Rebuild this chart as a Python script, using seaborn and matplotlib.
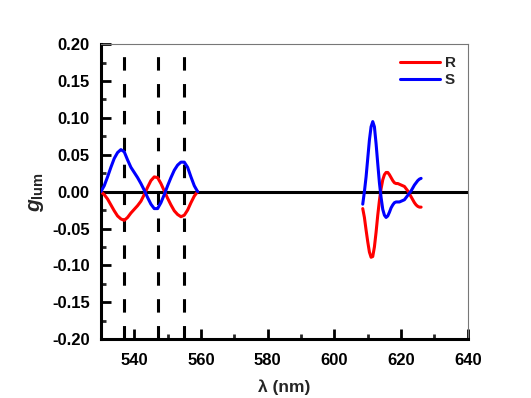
import numpy as np
import pandas as pd
import matplotlib
matplotlib.use("Agg")
import matplotlib.pyplot as plt
from matplotlib.ticker import MultipleLocator
import seaborn as sns

# ---- data ----
wl_left = [530, 531, 532, 533, 534, 535, 536, 537, 538, 539, 540, 541, 542, 543, 544,
           545, 546, 547, 548, 549, 550, 551, 552, 553, 554, 555, 556, 557, 558, 559]
s_left = [0.000, 0.008, 0.020, 0.033, 0.045, 0.053, 0.057, 0.054, 0.043, 0.033, 0.026,
          0.019, 0.011, 0.002, -0.008, -0.017, -0.023, -0.023, -0.015, -0.004, 0.008,
          0.019, 0.029, 0.036, 0.040, 0.040, 0.033, 0.020, 0.008, 0.000]
r_left = [0.000, -0.004, -0.010, -0.018, -0.026, -0.033, -0.037, -0.039, -0.035, -0.029,
          -0.024, -0.019, -0.013, -0.004, 0.006, 0.015, 0.020, 0.019, 0.011, 0.001,
          -0.009, -0.018, -0.026, -0.031, -0.034, -0.032, -0.025, -0.015, -0.006, 0.000]

wl_right = [608.5, 609.0, 609.5, 610.0, 610.5, 611.0, 611.5, 612.0, 612.5, 613.0, 613.5,
            614.0, 614.5, 615.0, 615.5, 616.0, 616.5, 617.0, 617.5, 618.0, 618.5, 619.0,
            619.5, 620.0, 620.5, 621.0, 621.5, 622.0, 622.5, 623.0, 623.5, 624.0, 624.5,
            625.0, 625.5, 626.0]
s_right = [-0.017, 0.000, 0.020, 0.045, 0.070, 0.088, 0.095, 0.088, 0.065, 0.038, 0.012,
           -0.008, -0.024, -0.032, -0.035, -0.033, -0.028, -0.022, -0.018, -0.015, -0.014,
           -0.014, -0.014, -0.013, -0.012, -0.011, -0.008, -0.005, -0.002, 0.001, 0.005,
           0.009, 0.012, 0.015, 0.017, 0.018]
r_right = [-0.023, -0.035, -0.052, -0.068, -0.082, -0.089, -0.088, -0.075, -0.055, -0.032,
           -0.012, 0.004, 0.016, 0.023, 0.026, 0.026, 0.023, 0.019, 0.015, 0.012, 0.011,
           0.011, 0.010, 0.009, 0.008, 0.007, 0.004, 0.001, -0.003, -0.007, -0.011, -0.015,
           -0.018, -0.020, -0.021, -0.021]

dashed_wl = [537, 547, 555]
series_names = ["R", "S"]
series_colors = {"R": "#ff0000", "S": "#0000ff"}
x_ticks = [540, 560, 580, 600, 620, 640]
y_ticks = [-0.20, -0.15, -0.10, -0.05, 0.00, 0.05, 0.10, 0.15, 0.20]
y_ticklabels = ["-0.20", "-0.15", "-0.10", "-0.05", "0.00", "0.05", "0.10", "0.15", "0.20"]

# ---- build long table ----
frames = []
for name, lv, rv in [("R", r_left, r_right), ("S", s_left, s_right)]:
    frames.append(pd.DataFrame({"wl": wl_left, "g": lv, "series": name, "seg": "left"}))
    frames.append(pd.DataFrame({"wl": wl_right, "g": rv, "series": name, "seg": "right"}))
df = pd.concat(frames, ignore_index=True)

sns.set_style("ticks")
plt.rcParams["font.family"] = ["Liberation Sans", "DejaVu Sans"]
plt.rcParams["font.weight"] = "bold"
plt.rcParams["mathtext.fontset"] = "custom"
plt.rcParams["mathtext.it"] = "Liberation Sans:italic:bold"
plt.rcParams["mathtext.rm"] = "Liberation Sans:bold"
plt.rcParams["mathtext.bf"] = "Liberation Sans:bold"

fig = plt.figure(figsize=(5.31, 3.98), dpi=100)
ax = fig.add_axes([0.190, 0.148, 0.691, 0.741])

for x in dashed_wl:
    ax.axvline(x, color="black", lw=2.2, linestyle=(0, (4.4, 4.4)), zorder=1)
ax.axhline(0, color="black", lw=2.2, zorder=2)

sns.lineplot(data=df, x="wl", y="g", hue="series", units="seg", estimator=None,
             palette=series_colors, hue_order=series_names, lw=2.2, ax=ax,
             sort=False, zorder=3)

ax.set_xlim(530, 640)
ax.set_ylim(-0.20, 0.20)
ax.xaxis.set_minor_locator(MultipleLocator(10))
ax.yaxis.set_minor_locator(MultipleLocator(0.025))
ax.set_xticks(x_ticks)
ax.set_xticklabels([str(v) for v in x_ticks])
ax.set_yticks(y_ticks)
ax.set_yticklabels(y_ticklabels)

ax.tick_params(axis="both", which="major", direction="in", length=7, width=2,
               labelsize=12, colors="black")
ax.tick_params(axis="both", which="minor", direction="in", length=3.5, width=2)
ax.tick_params(axis="y", pad=8)
ax.tick_params(axis="x", pad=10)
ax.tick_params(top=False, right=False, which="both")
for lab in ax.get_xticklabels() + ax.get_yticklabels():
    lab.set_fontweight("bold")

for side in ["left", "bottom"]:
    ax.spines[side].set_linewidth(2.2)
    ax.spines[side].set_color("black")
for side in ["top", "right"]:
    ax.spines[side].set_linewidth(0.8)
    ax.spines[side].set_color("#777777")

ax.set_xlabel("λ (nm)", fontsize=12.5, fontweight="bold", labelpad=8)
ax.set_ylabel(r"$g_{\rm lum}$", fontsize=15, labelpad=4)

leg = ax.legend(title=None, loc="upper right", frameon=False, fontsize=11,
                handlelength=2.6, handletextpad=0.3, labelspacing=0.2,
                borderaxespad=0.4)
for t in leg.get_texts():
    t.set_fontweight("bold")
for h in leg.get_lines():
    h.set_linewidth(2.2)

fig.savefig("out.png", dpi=100, facecolor="white")
